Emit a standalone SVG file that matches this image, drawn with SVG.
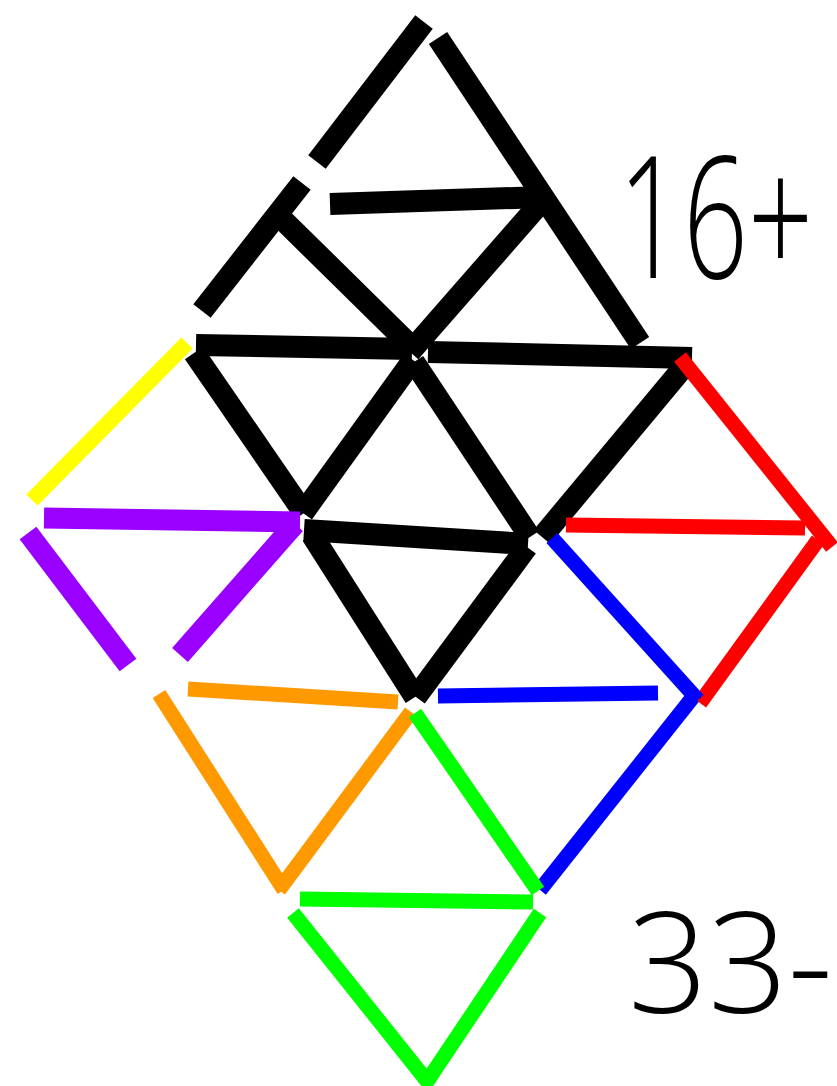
<svg xmlns="http://www.w3.org/2000/svg" width="837" height="1086" viewBox="0 0 837 1086">
<style>
.k{stroke:#000;stroke-width:22;fill:none;stroke-linecap:butt}
.y{stroke:#ffff00;stroke-width:16;fill:none}
.p{stroke:#9900ff;stroke-width:21;fill:none}
.o{stroke:#ff9900;stroke-width:15;fill:none}
.r{stroke:#ff0000;stroke-width:15;fill:none}
.b{stroke:#0000ff;stroke-width:15;fill:none}
.g{stroke:#00ff00;stroke-width:15;fill:none}
.hw{font-family:"Open Sans","DejaVu Sans",sans-serif;font-weight:300;fill:#000}
</style>
<rect width="837" height="1086" fill="#fff"/>
<g id="black">
<line class="k" x1="424" y1="22" x2="317" y2="162"/>
<line class="k" x1="438" y1="38" x2="640" y2="343"/>
<line class="k" x1="330" y1="204" x2="543" y2="197"/>
<line class="k" x1="302" y1="183" x2="202" y2="311"/>
<line class="k" x1="282" y1="219" x2="412" y2="347"/>
<line class="k" x1="543" y1="200" x2="410" y2="352"/>
<line class="k" x1="196" y1="345" x2="412" y2="349"/>
<line class="k" x1="428" y1="352" x2="692" y2="358"/>
<line class="k" x1="194" y1="353" x2="304" y2="513"/>
<line class="k" x1="413" y1="360" x2="303" y2="513"/>
<line class="k" x1="414" y1="362" x2="530" y2="537"/>
<line class="k" x1="687" y1="363" x2="542" y2="537"/>
<line class="k" x1="304" y1="530" x2="528" y2="544"/>
<line class="k" x1="312" y1="535" x2="415" y2="697"/>
<line class="k" x1="527" y1="547" x2="416" y2="697"/>
</g>
<g id="yellow">
<line class="y" x1="187" y1="343" x2="32" y2="500"/>
</g>
<g id="purple">
<line class="p" x1="44" y1="518" x2="300" y2="522"/>
<line class="p" x1="28" y1="533" x2="128" y2="665"/>
<line class="p" x1="295" y1="524" x2="180" y2="655"/>
</g>
<g id="orange">
<line class="o" x1="188" y1="689" x2="398" y2="702"/>
<line class="o" x1="159" y1="694" x2="284" y2="890"/>
<line class="o" x1="411" y1="712" x2="279" y2="890"/>
</g>
<g id="red">
<line class="r" x1="680" y1="357" x2="832" y2="547"/>
<line class="r" x1="566" y1="525" x2="805" y2="528"/>
<line class="r" x1="818" y1="540" x2="700" y2="703"/>
</g>
<g id="blue">
<line class="b" x1="552" y1="538" x2="698" y2="700"/>
<line class="b" x1="438" y1="696" x2="658" y2="693"/>
<line class="b" x1="693" y1="697" x2="540" y2="890"/>
</g>
<g id="green">
<line class="g" x1="415" y1="713" x2="538" y2="891"/>
<line class="g" x1="300" y1="899" x2="533" y2="902"/>
<line class="g" x1="293" y1="913" x2="431" y2="1086"/>
<line class="g" x1="540" y1="913" x2="424" y2="1086"/>
</g>
<g id="labels">
<text class="hw" transform="translate(618,278) scale(0.67,1)" x="0" y="0" font-size="170">16+</text>
<text class="hw" x="628" y="1013" font-size="140">33-</text>
</g>
</svg>
